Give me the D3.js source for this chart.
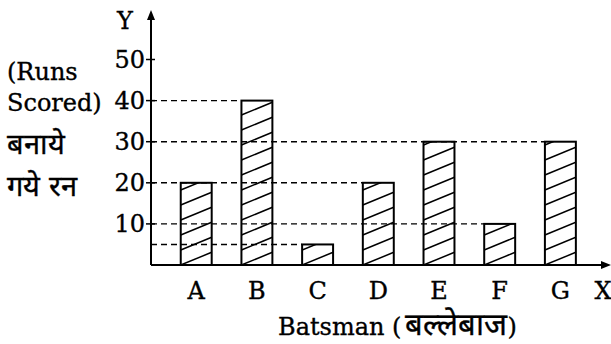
<!DOCTYPE html>
<html>
<head>
<meta charset="utf-8">
<script src="https://cdn.jsdelivr.net/npm/d3@7"></script>
<style>
  html, body { margin: 0; padding: 0; background: #fff; }
  svg text { font-family: "DejaVu Serif", "Liberation Serif", serif; fill: #000; stroke: #000; stroke-width: 0.35; }
</style>
</head>
<body>
<div id="chart"></div>
<script>
'use strict'

// data
const batsmen = ['A', 'B', 'C', 'D', 'E', 'F', 'G']
const runs = [20, 40, 5, 20, 30, 10, 30]
const yTicks = [10, 20, 30, 40, 50]
const yLabelLines = ['(Runs', 'Scored)', 'बनाये', 'गये रन']
const xTitleParts = ['Batsman (', 'बल्लेबाज', ')']

const svgWidth = 611
const svgHeight = 344

const svg = d3.select('#chart')
    .append('svg')
    .attr('width', svgWidth)
    .attr('height', svgHeight)

svg.append('rect').attr('width', svgWidth).attr('height', svgHeight).attr('fill', '#fff')

// scales
const x = d3.scaleBand()
    .domain(batsmen)
    .range([151, 605.6])
    .paddingInner(0.49)
    .paddingOuter(0.49)

const y = d3.scaleLinear()
    .domain([0, 50])
    .range([265, 59.5])

const x0 = x.range()[0]
const y0 = y(0)

const defs = svg.append('defs')
const data = batsmen.map((b, i) => ({ name: b, value: runs[i] }))

// bars with hatching
const bars = svg.append('g')
data.forEach((d, i) => {
    const bx = x(d.name), bw = x.bandwidth()
    const top = y(d.value)
    defs.append('clipPath').attr('id', 'clip' + i)
        .append('rect').attr('x', bx).attr('y', top).attr('width', bw).attr('height', y0 - top)

    const step = 15, rise = 12.7
    const n = Math.ceil((y0 - top) / step) + 1
    bars.append('g')
        .attr('clip-path', `url(#clip${i})`)
        .selectAll('line')
        .data(d3.range(n))
        .join('line')
        .attr('x1', bx).attr('y1', k => y0 - k * step)
        .attr('x2', bx + bw).attr('y2', k => y0 - k * step - rise)
        .attr('stroke', '#000')
        .attr('stroke-width', 1.5)

    bars.append('rect')
        .attr('x', bx).attr('y', top)
        .attr('width', bw).attr('height', y0 - top)
        .attr('fill', 'none')
        .attr('stroke', '#000')
        .attr('stroke-width', 2)
})

// dashed guide lines: one per value, up to the last bar with that value
const guides = d3.rollups(data, v => d3.max(v, d => x(d.name)), d => d.value)
svg.append('g')
    .selectAll('line')
    .data(guides)
    .join('line')
    .attr('x1', x0).attr('x2', d => d[1])
    .attr('y1', d => y(d[0])).attr('y2', d => y(d[0]))
    .attr('stroke', '#000')
    .attr('stroke-width', 1.4)
    .attr('stroke-dasharray', '6,4')

// axes
const axisG = svg.append('g').attr('stroke', '#000').attr('stroke-width', 2)
axisG.append('line').attr('x1', x0).attr('x2', x0).attr('y1', y0).attr('y2', 16)
axisG.append('line').attr('x1', x0).attr('x2', 606).attr('y1', y0).attr('y2', y0)
svg.append('path').attr('d', `M${x0},10 L${x0 - 4},20 L${x0 + 4},20 Z`).attr('fill', '#000')
svg.append('path').attr('d', `M611,${y0} L601,${y0 - 4} L601,${y0 + 4} Z`).attr('fill', '#000')

// y ticks
const tickG = svg.append('g')
tickG.selectAll('line')
    .data(yTicks)
    .join('line')
    .attr('x1', x0 - 5).attr('x2', x0 + 4)
    .attr('y1', d => y(d)).attr('y2', d => y(d))
    .attr('stroke', '#000').attr('stroke-width', 1.5)
tickG.selectAll('text')
    .data(yTicks)
    .join('text')
    .attr('x', x0 - 6).attr('y', d => y(d))
    .attr('dy', '0.35em')
    .attr('text-anchor', 'end')
    .attr('font-size', 24)
    .text(d => d)

// x labels
svg.append('g')
    .selectAll('text')
    .data(batsmen)
    .join('text')
    .attr('x', d => x(d) + x.bandwidth() / 2)
    .attr('y', 299)
    .attr('text-anchor', 'middle')
    .attr('font-size', 24)
    .text(d => d)

svg.append('text').attr('x', 603).attr('y', 299).attr('text-anchor', 'middle').attr('font-size', 24).text('X')
svg.append('text').attr('x', 125).attr('y', 29).attr('text-anchor', 'middle').attr('font-size', 24).text('Y')

// y title
const yTitleY = [80, 111, 154, 196]
const yTitleSize = [24, 24, 29, 29]
svg.append('g')
    .selectAll('text')
    .data(yLabelLines)
    .join('text')
    .attr('x', 7)
    .attr('y', (d, i) => yTitleY[i])
    .attr('font-size', (d, i) => yTitleSize[i])
    .text(d => d)

// x title
const xTitle = svg.append('text')
    .attr('x', 278).attr('y', 335)
    .attr('font-size', 24)
xTitle.append('tspan').text(xTitleParts[0])
xTitle.append('tspan').attr('font-size', 31).attr('dx', 4).text(xTitleParts[1])
xTitle.append('tspan').text(xTitleParts[2])
</script>
</body>
</html>
